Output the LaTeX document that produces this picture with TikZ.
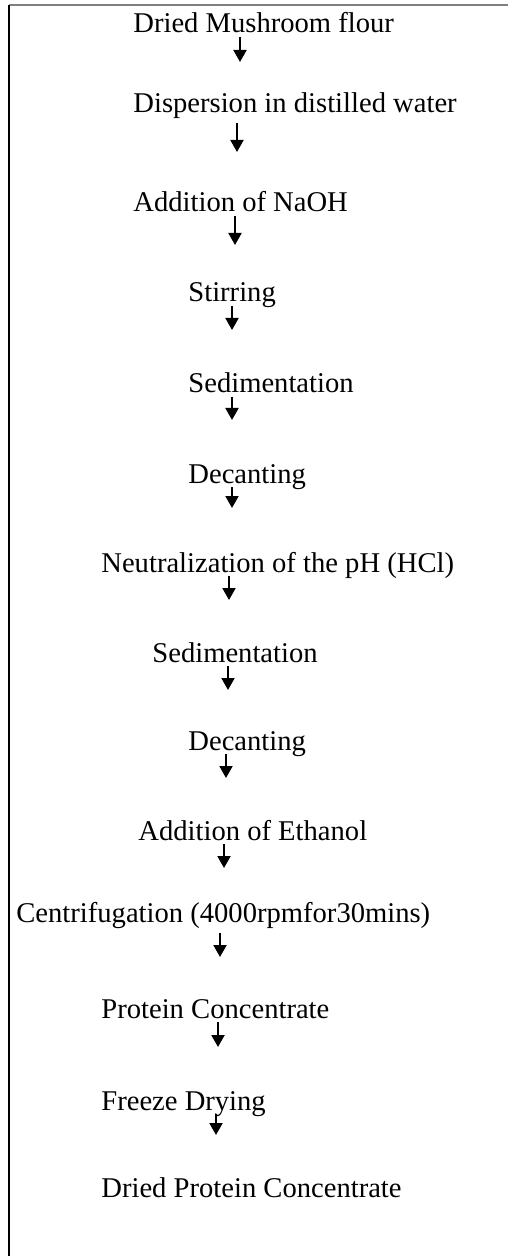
\documentclass[tikz,border=0pt]{standalone}
\usepackage{fontspec}
\setmainfont{Liberation Serif}
\usetikzlibrary{arrows.meta}
\definecolor{framegray}{HTML}{7F7F7F}
\tikzset{
  steptext/.style={anchor=base west, inner sep=0pt, font=\fontsize{14.3}{17}\selectfont},
  flowarrow/.style={line width=1pt, shorten <=2pt, -{Triangle[width=6.5pt,length=6pt]}}
}
\begin{document}
\begin{tikzpicture}[x=0.5pt, y=-0.5pt]
  \useasboundingbox (0,0) rectangle (508,1256);

  % Frame (only top and left edges show)
  \draw[framegray, line width=0.75pt] (9,5) -- (508,5);
  \draw[black, line width=0.75pt] (9,5) -- (9,1256);

  % Steps
  \node[steptext] (s1)  at (133,33)   {Dried Mushroom flour};
  \node[steptext] (s2)  at (133,113)  {Dispersion in distilled water};
  \node[steptext] (s3)  at (133,212)  {Addition of NaOH};
  \node[steptext] (s4)  at (188,302)  {Stirring};
  \node[steptext] (s5)  at (188,393)  {Sedimentation};
  \node[steptext] (s6)  at (188,483)  {Decanting};
  \node[steptext] (s7)  at (101,572)  {Neutralization of the pH (HCl)};
  \node[steptext] (s8)  at (152,662)  {Sedimentation};
  \node[steptext] (s9)  at (188,750)  {Decanting};
  \node[steptext] (s10) at (138,840)  {Addition of Ethanol};
  \node[steptext] (s11) at (16,922)   {Centrifugation (4000rpmfor30mins)};
  \node[steptext] (s12) at (101,1018) {Protein Concentrate};
  \node[steptext] (s13) at (101,1110) {Freeze Drying};
  \node[steptext] (s14) at (101,1197) {Dried Protein Concentrate};

  % Arrow tips
  \coordinate (a1)  at (240,62);
  \coordinate (a2)  at (237,152);
  \coordinate (a3)  at (235,245);
  \coordinate (a4)  at (232,330);
  \coordinate (a5)  at (232,420);
  \coordinate (a6)  at (232,508);
  \coordinate (a7)  at (229,600);
  \coordinate (a8)  at (228,690);
  \coordinate (a9)  at (226,778);
  \coordinate (a10) at (224,868);
  \coordinate (a11) at (220,957);
  \coordinate (a12) at (218,1047);
  \coordinate (a13) at (216,1135);

  % Arrows
  \draw[flowarrow] (s1.base -| a1) -- (a1);
  \draw[flowarrow] (s2.south -| a2) -- (a2);
  \draw[flowarrow] (s3.base -| a3) -- (a3);
  \draw[flowarrow] (s4.base -| a4) -- (a4);
  \draw[flowarrow] (s5.base -| a5) -- (a5);
  \draw[flowarrow] (s6.base -| a6) -- (a6);
  \draw[flowarrow] (s7.base -| a7) -- (a7);
  \draw[flowarrow] (s8.base -| a8) -- (a8);
  \draw[flowarrow] (s9.base -| a9) -- (a9);
  \draw[flowarrow] (s10.base -| a10) -- (a10);
  \draw[flowarrow] (s11.south -| a11) -- (a11);
  \draw[flowarrow] (s12.base -| a12) -- (a12);
  \draw[flowarrow] (s13.base -| a13) -- (a13);
\end{tikzpicture}
\end{document}
